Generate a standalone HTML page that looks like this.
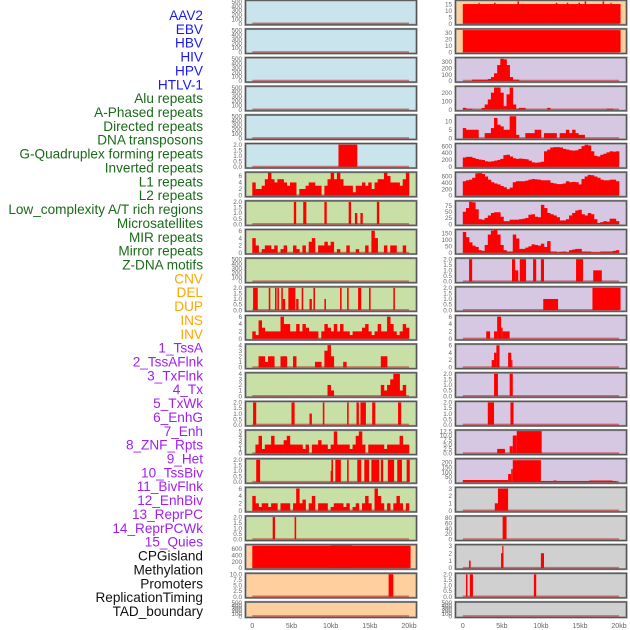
<!DOCTYPE html>
<html><head><meta charset="utf-8"><style>
html,body{margin:0;padding:0;background:#fff;}
svg{display:block;font-family:"Liberation Sans",sans-serif;}
</style></head><body>
<svg id="chart" width="630" height="630" viewBox="0 0 630 630" xmlns="http://www.w3.org/2000/svg">
<g id="labels"></g>
<g id="panels"></g>
<g id="xaxis"></g>
</svg>
<script>
// ---------- data ----------
const trackLabels = ["AAV2","EBV","HBV","HIV","HPV","HTLV-1","Alu repeats","A-Phased repeats","Directed repeats","DNA transposons","G-Quadruplex forming repeats","Inverted repeats","L1 repeats","L2 repeats","Low_complexity A/T rich regions","Microsatellites","MIR repeats","Mirror repeats","Z-DNA motifs","CNV","DEL","DUP","INS","INV","1_TssA","2_TssAFlnk","3_TxFlnk","4_Tx","5_TxWk","6_EnhG","7_Enh","8_ZNF_Rpts","9_Het","10_TssBiv","11_BivFlnk","12_EnhBiv","13_ReprPC","14_ReprPCWk","15_Quies","CPGisland","Methylation","Promoters","ReplicationTiming","TAD_boundary"];
const labelGroups = ["virus","virus","virus","virus","virus","virus","repeat","repeat","repeat","repeat","repeat","repeat","repeat","repeat","repeat","repeat","repeat","repeat","repeat","sv","sv","sv","sv","sv","chrom","chrom","chrom","chrom","chrom","chrom","chrom","chrom","chrom","chrom","chrom","chrom","chrom","chrom","chrom","other","other","other","other","other"];
const xTickValues = [0,5,10,15,20];
const xTickLabels = ["0","5kb","10kb","15kb","20kb"];

// tick arrays
const ticks500 = [0,100,200,300,400,500];
const ticks2 = [0,0.5,1,1.5,2];
const ticks2Lab = ["0.0","0.5","1.0","1.5","2.0"];
const ticks6 = [0,2,4,6];
const ticks4 = [0,1,2,3,4];
const ticks5 = [0,1,2,3,4,5];
const ticks600 = [0,200,400,600];
const ticks10 = [0,2.5,5,7.5,10];
const ticks10Lab = ["0.0","2.5","5.0","7.5","10.0"];

// left column values (bins = 0.4kb each, segments = [startKb,endKb,value])
const leftRow5Segs = [[11.0,13.4,2]];
const leftRow6Bins = [4,2,2,3,5,7,5,4,5,5,4,3,4,4,0,2,2,3,4,4,3,3,0,3,5,7,5,7,5,3,3,3,1,3,3,4,3,4,2,4,5,5,7,6,4,4,4,3,5,7];
const leftRow7Segs = [[5.3,5.6,2],[6.5,6.9,2],[9.2,9.5,2],[12.3,12.6,2],[13.1,13.4,1],[13.8,14.1,1],[15.9,16.2,2]];
const leftRow8Bins = [4,2,0,1,2,2,1,2,0,1,2,0,0,2,1,0,2,0,3,4,0,2,2,3,2,3,0,1,0,0,2,0,0,1,0,0,2,0,6,4,0,0,2,0,2,2,0,0,2,0];
const leftRow10Segs = [[0.1,0.7,2],[2.1,2.3,2],[2.9,3.1,2],[3.2,3.4,2],[3.7,3.9,2],[3.9,4.2,1],[4.6,5.5,2],[5.6,5.9,1],[6.3,6.5,2],[7.3,7.6,1],[7.8,8.0,2],[9.2,9.4,1],[11.2,11.4,2],[12.1,12.3,2],[13.5,13.9,2],[14.9,15.1,2],[18.0,18.2,2]];
const leftRow11Bins = [2,1,5,3,2,2,2,2,2,6,4,4,2,2,4,2,4,3,2,2,2,0,2,4,3,2,4,2,4,2,2,1,2,2,2,3,4,2,1,2,4,2,2,6,4,2,1,2,4,3];
const leftRow12Bins = [0,0,2,2,1,2,2,0,0,2,2,0,0,2,0,0,0,0,0,0,1,1,0,3,4,2,0,0,0,1,0,0,0,0,0,0,0,0,0,0,0,2,2,0,0,0,0,0,0,0];
const leftRow13Bins = [0,0,0,0,0,0,0,0,0,0,0,0,0,0,0,0,0,0,0,0,0,0,0,0,2,1,0,0,0,0,0,0,0,0,0,0,0,0,0,0,0,2,1,2,3,4,4,1,2,0];
const leftRow14Segs = [[0.1,0.5,2],[5.0,5.4,2],[7.3,7.6,1],[9.0,9.2,2],[12.1,12.3,2],[13.3,13.6,2],[13.8,14.5,2],[15.3,15.7,2],[18.6,19.0,2]];
const leftRow15Bins = [0,2,4,1,2,2,4,2,2,2,3,4,2,2,2,2,1,2,0,2,2,3,2,2,1,2,5,2,2,2,2,1,2,4,5,2,0,2,2,2,2,2,1,2,2,2,2,4,2,2];
const leftRow16Segs = [[0.5,1.0,2],[10.0,10.1,1],[10.1,10.3,2],[10.6,11.3,2],[12.1,12.3,2],[13.4,13.9,2],[14.3,14.9,2],[15.2,16.2,2],[16.4,16.7,2],[17.3,18.1,2],[18.5,19.1,2],[19.7,20.1,2]];
const leftRow17Bins = [4,2,1,2,2,1,2,2,0,2,2,2,0,2,6,2,3,0,2,4,0,2,2,2,0,1,2,2,2,1,2,0,1,2,0,2,4,2,0,6,4,2,0,2,0,2,4,2,0,2];
const leftRow18Segs = [[2.6,2.9,2],[5.4,5.6,2]];
const leftRow19Segs = [[0,20.2,700],[10.0,12.7,710]];
const leftRow20Segs = [[17.4,18.0,10]];

// right column values
const rightRow0Segs = [[0,20.2,15],[2.0,2.1,16],[4.0,4.2,16],[7.0,7.2,17],[11.9,12.1,16],[13.3,13.5,16],[14.8,15.0,16],[15.6,15.8,17],[17.9,18.1,17],[18.9,19.0,16]];
const rightRow1Segs = [[0,20.2,34]];
const rightRow2Bins = [0,0,0,20,20,20,20,20,30,60,120,250,350,340,250,60,20,20,0,0,0,0,0,0,0,0,0,0,0,0,0,0,0,0,0,0,0,0,0,0,0,0,0,0,0,0,0,0,0,0];
const rightRow3Bins = [20,10,10,0,0,0,20,60,120,200,260,260,200,40,180,260,60,10,20,20,0,0,0,0,0,0,0,20,0,0,0,0,0,0,0,0,0,0,0,0,0,0,0,0,0,0,10,10,0,0];
const rightRow4Bins = [6,5,5,5,5,0,0,3,3,6,12,8,7,5,5,13,13,2,0,0,3,3,3,5,5,0,3,3,3,3,0,3,3,5,3,5,3,2,2,0,0,0,0,0,0,0,0,0,0,0];
const rightRow5Bins = [270,290,290,260,230,210,200,160,150,160,180,200,230,340,350,300,250,230,240,230,220,180,130,120,130,150,450,500,560,570,570,560,520,500,480,470,480,520,600,640,620,450,320,300,350,380,420,450,440,450];
const rightRow6Bins = [450,480,500,560,700,710,680,600,500,420,380,350,300,260,200,250,420,450,450,450,470,500,520,510,500,480,480,480,400,380,360,360,380,450,420,430,420,350,520,600,650,640,600,560,500,480,480,500,500,450];
const rightRow7Bins = [50,65,90,88,60,20,18,25,35,45,48,48,30,12,12,18,18,18,20,22,25,38,40,30,28,78,65,45,40,35,28,15,15,20,35,45,55,58,40,35,45,40,20,5,8,12,10,22,22,12];
const rightRow8Bins = [160,120,80,55,45,20,15,60,140,170,175,140,60,20,10,10,140,110,30,30,40,50,65,60,55,70,45,90,10,10,5,8,10,5,20,25,30,30,10,10,10,5,5,5,10,10,10,10,15,20];
const rightRow9Segs = [[0.8,1.2,2],[6.3,6.7,2],[6.7,7.1,1],[7.3,8.1,2],[9.0,9.4,2],[10.0,10.4,2],[14.5,15.4,2],[16.7,17.8,1]];
const rightRow10Segs = [[10.3,12.2,1],[16.6,20.2,2]];
const rightRow11Segs = [[3.0,3.5,2],[4.0,4.4,2],[4.4,4.9,6],[4.9,5.1,3],[5.1,6.0,2]];
const rightRow12Segs = [[3.7,4.0,2],[4.0,4.3,4],[4.3,4.7,6],[5.8,6.2,4],[6.2,6.3,2]];
const rightRow13Segs = [[4.0,4.5,2],[6.0,6.4,2]];
const rightRow14Segs = [[3.2,4.0,2],[6.1,6.5,2]];
const rightRow15Segs = [[4.4,5.4,2.5],[6.0,6.4,4],[6.4,6.9,10],[6.9,10.1,12.5]];
const rightRow16Segs = [[0,5.8,20],[5.8,6.2,80],[6.2,6.4,130],[6.4,10.0,220],[10.0,11.6,10],[11.6,12.0,15],[12.0,16.2,10],[16.2,19.2,15],[19.2,19.7,10]];
const rightRow17Segs = [[4.1,4.5,1],[4.5,5.8,3]];
const rightRow18Segs = [[5.1,5.6,85]];
const rightRow19Segs = [[0.8,1.0,1],[4.9,5.2,2],[5.05,5.2,3],[10.0,10.4,2]];
const rightRow20Segs = [[0.4,0.6,2],[0.9,1.3,2],[9.1,9.4,2]];

// ---------- layout ----------
const NS = "http://www.w3.org/2000/svg";
const BIN_KB = 0.4;
const colors = {virus:"#1a1aee",repeat:"#1a6a1a",sv:"#ffa500",chrom:"#a020f0",other:"#111111"};
const bgs = {blue:"#c9e4ec",green:"#c8e0a5",orange:"#ffd09e",purple:"#d6c8e2",gray:"#d0d0d0"};
const cols = [{frameX:245.5,frameW:171,x0:252.3,x20:409},{frameX:455.5,frameW:171,x0:462.8,x20:619}];
function rowTop(i){return 0.3+28.65*i;}
function rowH(i){return i===21?15.5:24.5;}

function P(col,bg,yTop,ticks,labs,bins,segs){return {col,bg,yTop,ticks,labs,bins,segs};}
const panels = [
 P(0,"blue",520,ticks500,null,null,null),
 P(0,"blue",520,ticks500,null,null,null),
 P(0,"blue",520,ticks500,null,null,null),
 P(0,"blue",520,ticks500,null,null,null),
 P(0,"blue",520,ticks500,null,null,null),
 P(0,"blue",2.05,ticks2,ticks2Lab,null,leftRow5Segs),
 P(0,"green",7,ticks6,null,leftRow6Bins,null),
 P(0,"green",2.05,ticks2,ticks2Lab,null,leftRow7Segs),
 P(0,"green",6.2,ticks6,null,leftRow8Bins,null),
 P(0,"green",520,ticks500,null,null,null),
 P(0,"green",2.05,ticks2,ticks2Lab,null,leftRow10Segs),
 P(0,"green",6.2,ticks6,null,leftRow11Bins,null),
 P(0,"green",4.1,ticks4,null,leftRow12Bins,null),
 P(0,"green",4.1,ticks4,null,leftRow13Bins,null),
 P(0,"green",2.05,ticks2,ticks2Lab,null,leftRow14Segs),
 P(0,"green",5.2,ticks5,null,leftRow15Bins,null),
 P(0,"green",2.05,ticks2,ticks2Lab,null,leftRow16Segs),
 P(0,"green",6.2,ticks6,null,leftRow17Bins,null),
 P(0,"green",2.05,ticks2,ticks2Lab,null,leftRow18Segs),
 P(0,"orange",720,ticks600,null,null,leftRow19Segs),
 P(0,"orange",10.2,ticks10,ticks10Lab,null,leftRow20Segs),
 P(0,"orange",520,ticks500,null,null,null),
 P(1,"orange",17.5,[0,5,10,15],null,null,rightRow0Segs),
 P(1,"orange",35,[0,10,20,30],null,null,rightRow1Segs),
 P(1,"purple",360,[0,100,200,300],null,rightRow2Bins,null),
 P(1,"purple",270,[0,100,200],null,rightRow3Bins,null),
 P(1,"purple",13.5,[0,5,10],null,rightRow4Bins,null),
 P(1,"purple",660,ticks600,null,rightRow5Bins,null),
 P(1,"purple",720,ticks600,null,rightRow6Bins,null),
 P(1,"purple",92,[0,25,50,75],null,rightRow7Bins,null),
 P(1,"purple",175,[0,50,100,150],null,rightRow8Bins,null),
 P(1,"purple",2.05,ticks2,ticks2Lab,null,rightRow9Segs),
 P(1,"purple",2.05,ticks2,ticks2Lab,null,rightRow10Segs),
 P(1,"purple",6.2,ticks6,null,null,rightRow11Segs),
 P(1,"purple",6.2,ticks6,null,null,rightRow12Segs),
 P(1,"purple",2.05,ticks2,ticks2Lab,null,rightRow13Segs),
 P(1,"purple",2.05,ticks2,ticks2Lab,null,rightRow14Segs),
 P(1,"purple",12.8,[0,2.5,5,7.5,10,12.5],["0.0","2.5","5.0","7.5","10.0","12.5"],null,rightRow15Segs),
 P(1,"purple",230,[0,50,100,150,200],null,null,rightRow16Segs),
 P(1,"gray",3.1,[0,1,2,3],null,null,rightRow17Segs),
 P(1,"gray",85,[0,20,40,60,80],null,null,rightRow18Segs),
 P(1,"gray",3.1,[0,1,2,3],null,null,rightRow19Segs),
 P(1,"gray",2.05,ticks2,ticks2Lab,null,rightRow20Segs),
 P(1,"gray",520,ticks500,null,null,null)
];

function mk(tag,attrs,parent){const e=document.createElementNS(NS,tag);for(const k in attrs)e.setAttribute(k,attrs[k]);parent.appendChild(e);return e;}

// labels
const gl = document.getElementById("labels");
trackLabels.forEach((t,i)=>{
  const e = mk("text",{x:203,y:20+13.86*i,"text-anchor":"end","font-size":"13.6",fill:colors[labelGroups[i]]},gl);
  
  
  e.textContent = t;
});

// panels
const gp = document.getElementById("panels");
panels.forEach((p,idx)=>{
  const row = p.col===0 ? idx : idx-22;
  const c = cols[p.col];
  const top = rowTop(row), h = rowH(row), bottom = top+h;
  const zeroY = bottom-1.2, fullY = top+0.5;
  const yS = v => zeroY - (v/p.yTop)*(zeroY-fullY);
  const xS = kb => c.x0 + kb*(c.x20-c.x0)/20;
  const g = mk("g",{},gp);
  
  
  const bg = mk("rect",{x:c.frameX,y:top,width:c.frameW,height:h,fill:bgs[p.bg],stroke:"#9a9a9a","stroke-width":"2.2"},g);
  
  
  // ticks
  p.ticks.forEach((tv,ti)=>{
    const lab = p.labs ? p.labs[ti] : String(tv);
    const e = mk("text",{x:c.frameX-3.5,y:yS(tv)+2.2,"text-anchor":"end","font-size":"6.3",fill:"#666"},g);
    
    
    e.textContent = lab;
  });
  // bars
  if(p.bins){
    p.bins.forEach((v,bi)=>{
      if(v<=0) return;
      const x1 = xS(bi*BIN_KB), x2 = xS((bi+1)*BIN_KB);
      const r = mk("rect",{x:x1,y:yS(v),width:x2-x1+0.3,height:zeroY-yS(v),fill:"#ff0000"},g);
      
      
    });
  }
  if(p.segs){
    p.segs.forEach(s=>{
      const x1 = xS(s[0]), x2 = xS(s[1]);
      const r = mk("rect",{x:x1,y:yS(s[2]),width:Math.max(1.2,x2-x1),height:zeroY-yS(s[2]),fill:"#ff0000"},g);
      
      
    });
  }
  // baseline
  const bl = mk("line",{x1:xS(0),x2:xS(20),y1:zeroY-0.3,y2:zeroY-0.3,stroke:"rgba(190,30,30,0.55)","stroke-width":"1.6"},g);
  
  
  const fr = mk("rect",{x:c.frameX,y:top,width:c.frameW,height:h,fill:"none",stroke:"#555","stroke-width":"1.1"},g);
  
  
});

// x axis
const gx = document.getElementById("xaxis");
cols.forEach(c=>{
  xTickValues.forEach((v,i)=>{
    const e = mk("text",{x:c.x0+v*(c.x20-c.x0)/20,y:628,"text-anchor":"middle","font-size":"7",fill:"#666"},gx);
    
    
    e.textContent = xTickLabels[i];
  });
});
</script>
</body></html>
